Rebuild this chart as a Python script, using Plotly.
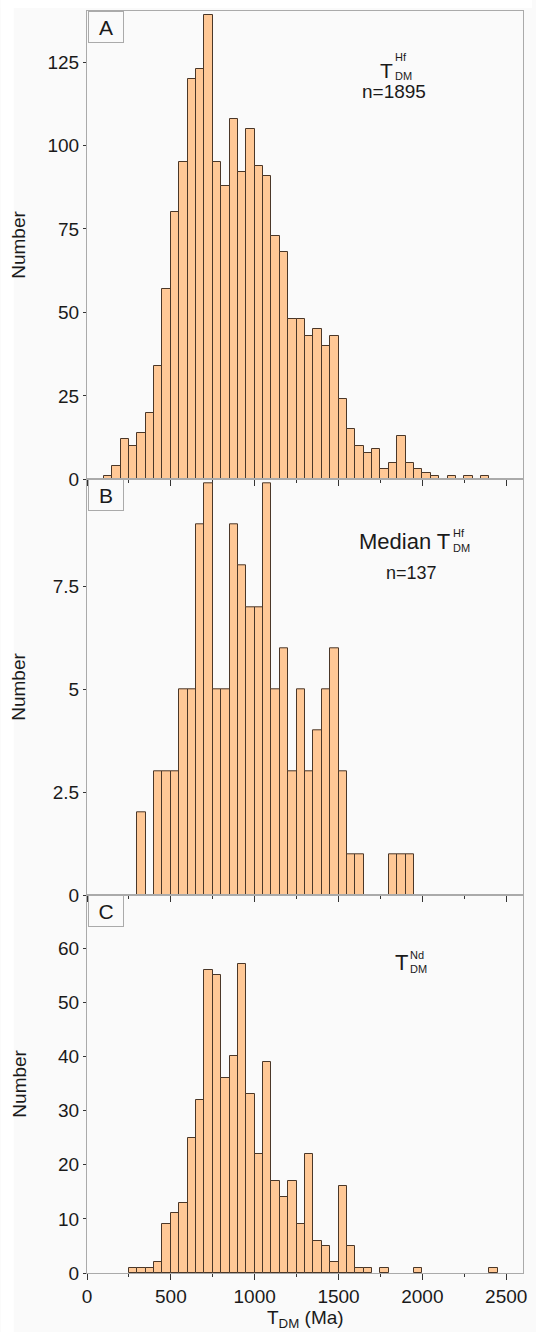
import plotly.graph_objects as go

# ---------------- data ----------------
bin_width = 50
bin_lower = list(range(0, 2600, 50))  # lower edges of 50 Ma bins

counts_hf = [0, 0, 1, 4, 12, 10, 14, 20, 34, 57,
             80, 95, 120, 123, 139, 95, 88, 108, 92, 105,
             94, 91, 73, 68, 48, 48, 43, 45, 40, 43,
             24, 15, 10, 8, 9, 3, 5, 13, 5, 3,
             2, 1, 0, 1, 0, 1, 0, 1, 0, 0,
             0, 0]

counts_median_hf = [0, 0, 0, 0, 0, 0, 2, 0, 3, 3,
                    3, 5, 5, 9, 10, 5, 5, 9, 8, 7,
                    7, 10, 5, 6, 3, 5, 3, 4, 5, 6,
                    3, 1, 1, 0, 0, 0, 1, 1, 1, 0,
                    0, 0, 0, 0, 0, 0, 0, 0, 0, 0,
                    0, 0]

counts_nd = [0, 0, 0, 0, 0, 1, 1, 1, 2, 9,
             11, 13, 25, 32, 56, 55, 36, 40, 57, 33,
             22, 39, 17, 14, 17, 9, 22, 6, 5, 2,
             16, 5, 1, 1, 0, 1, 0, 0, 0, 1,
             0, 0, 0, 0, 0, 0, 0, 0, 1, 0,
             0, 0]

panel_letters = ["A", "B", "C"]
yticks_a = [0, 25, 50, 75, 100, 125]
yticks_b = [0, 2.5, 5, 7.5]
yticktext_b = ["0", "2.5", "5", "7.5"]
yticks_c = [0, 10, 20, 30, 40, 50, 60]
xticks = [0, 500, 1000, 1500, 2000, 2500]

# ---------------- style ----------------
W, H = 536, 1332
ML, MR, MT, MB = 87, 9, 11, 59
PW, PH = W - ML - MR, H - MT - MB
FONT = "Arial, Liberation Sans, Helvetica, sans-serif"
BG = "#fafafa"
FRAME = "#aaaaaa"
TICKC = "#333333"
TXT = "#1a1a1a"
FILL = "#ffc896"
EDGE = "#4a3728"


def px(xp):
    return (xp - ML) / PW


def py(yp):
    return (H - MB - yp) / PH


# panel pixel extents (top, bottom)
panels = [(11, 479.3), (479.3, 895), (895, 1273)]
domains = [[py(b), py(t)] for t, b in panels]
yranges = [[0, 140.3], [0, 10.1], [0, 69.8]]

fig = go.Figure()
series = [counts_hf, counts_median_hf, counts_nd]
for i, cnt in enumerate(series):
    xs = [lo + bin_width / 2 for lo, c in zip(bin_lower, cnt) if c > 0]
    ys = [c for c in cnt if c > 0]
    fig.add_trace(go.Bar(
        x=xs, y=ys, width=bin_width,
        marker=dict(color=FILL, line=dict(color=EDGE, width=1)),
        xaxis="x" if i == 0 else f"x{i+1}",
        yaxis="y" if i == 0 else f"y{i+1}",
        showlegend=False, hoverinfo="skip",
    ))

layout = dict(
    width=W, height=H,
    margin=dict(l=ML, r=MR, t=MT, b=MB, pad=0),
    paper_bgcolor=BG, plot_bgcolor=BG,
    font=dict(family=FONT, size=19, color=TXT),
    bargap=0,
)

for i in range(3):
    xk = "xaxis" if i == 0 else f"xaxis{i+1}"
    yk = "yaxis" if i == 0 else f"yaxis{i+1}"
    ya = "y" if i == 0 else f"y{i+1}"
    xa = "x" if i == 0 else f"x{i+1}"
    layout[xk] = dict(
        domain=[0, 1], anchor=ya, range=[0, 2600],
        tickvals=xticks, ticks="outside", ticklen=6, tickwidth=1,
        tickcolor=TICKC, showticklabels=(i == 2),
        tickfont=dict(size=19, color=TXT),
        minor=dict(tickvals=[250, 750, 1250, 1750, 2250], ticks="outside",
                   ticklen=3, tickwidth=1, tickcolor=TICKC, showgrid=False),
        showline=True, linecolor=FRAME, linewidth=1, mirror=True,
        showgrid=False, zeroline=False,
    )
    if i == 0:
        tv, tt = yticks_a, [str(v) for v in yticks_a]
    elif i == 1:
        tv, tt = yticks_b, yticktext_b
    else:
        tv, tt = yticks_c, [str(v) for v in yticks_c]
    layout[yk] = dict(
        domain=domains[i], anchor=xa, range=yranges[i],
        tickvals=tv, ticktext=tt, ticks="outside", ticklen=3, tickwidth=1,
        tickcolor=TICKC, tickfont=dict(size=19, color=TXT),
        showline=True, linecolor=FRAME, linewidth=1, mirror=True,
        showgrid=False, zeroline=False,
    )

fig.update_layout(**layout)

ann = []
# panel letters
for i, (t, b) in enumerate(panels):
    ann.append(dict(
        text=panel_letters[i], xref="paper", yref="paper",
        x=px(88), y=py(t), xanchor="left", yanchor="top",
        showarrow=False, font=dict(size=21, color=TXT),
        bordercolor=FRAME, borderwidth=1, bgcolor=BG,
        width=32, height=28, borderpad=1,
    ))
    # y-axis title
    ann.append(dict(
        text="Number", xref="paper", yref="paper",
        x=px(18), y=py((t + b) / 2), xanchor="center", yanchor="middle",
        textangle=-90, showarrow=False, font=dict(size=19, color=TXT),
    ))


def label(text, x, y, size, xanchor="center"):
    ann.append(dict(text=text, xref="paper", yref="paper",
                    x=px(x), y=py(y), xanchor=xanchor, yanchor="middle",
                    showarrow=False, font=dict(size=size, color=TXT)))


# Panel A
label("T", 389, 70, 21)
label("Hf", 395.5, 57.5, 11, "left")
label("DM", 395.5, 76.5, 11, "left")
label("n=1895", 396.5, 92, 19)
# Panel B
label("Median T", 455, 541, 22, "right")
label("Hf", 454, 533, 11, "left")
label("DM", 454, 548, 11, "left")
label("n=137", 414.5, 573, 18)
# Panel C
label("T", 404.5, 962, 22)
label("Nd", 411, 954.5, 11, "left")
label("DM", 411, 969.5, 11, "left")
# x-axis title
label("T<sub>DM</sub> (Ma)", 307, 1319, 19)

fig.update_layout(annotations=ann)

# white strips at page edge (outside the grey sheet)
fig.update_layout(shapes=[
    dict(type="rect", xref="paper", yref="paper", layer="below",
         x0=px(0), x1=px(13), y0=py(H), y1=py(0),
         fillcolor="white", line=dict(width=0)),
    dict(type="rect", xref="paper", yref="paper", layer="below",
         x0=px(0), x1=px(W), y0=py(8), y1=py(0),
         fillcolor="white", line=dict(width=0)),
])

fig.write_html("out.html")
